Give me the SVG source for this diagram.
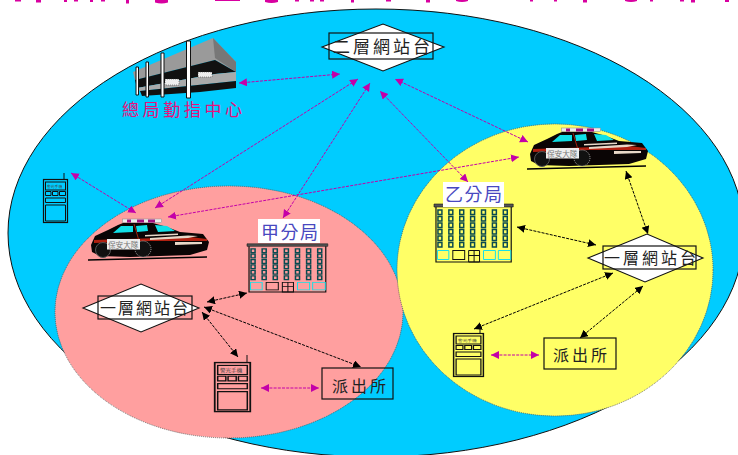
<svg xmlns="http://www.w3.org/2000/svg" width="738" height="455" viewBox="0 0 738 455">
<style>
text{font-family:"Noto Sans CJK TC","Noto Sans CJK SC",sans-serif}
.lbl{fill:#222;font-weight:400}
.box{fill:none;stroke:#111;stroke-width:1.2}
.dia{fill:#fff;stroke:#111;stroke-width:1.1}
.blue{fill:#4848c0;font-size:18px;letter-spacing:1.5px}
.m{stroke:#c400a8;fill:none;stroke-width:1;stroke-dasharray:3 1.2;marker-start:url(#mh);marker-end:url(#mh)}
.k{stroke:#000;fill:none;stroke-width:1;stroke-dasharray:3 1.2;marker-start:url(#kh);marker-end:url(#kh)}
</style>
<defs>
<marker id="mh" markerUnits="userSpaceOnUse" markerWidth="9" markerHeight="9" refX="8" refY="4" orient="auto-start-reverse"><path d="M0 0L8 4L0 8z" fill="#c400a8"/></marker>
<marker id="kh" markerUnits="userSpaceOnUse" markerWidth="9" markerHeight="9" refX="8" refY="4" orient="auto-start-reverse"><path d="M0 0L8 4L0 8z" fill="#000"/></marker>
<g id="car">
<path d="M1 27L5 18L18 12L28 7L33 5L63 5L77 9L90 14L113 16L119 24L117 32L100 37L40 39L10 38L2 34z" fill="#0a0505"/>
<rect x="32.500" y="1" width="39" height="3.600" fill="#eee" stroke="#888" stroke-width=".5"/>
<path d="M37 1.500h4v3h-4zM47 1.500h7v3h-7zM58 1.500h7v3h-7z" fill="#a01080"/>
<path d="M23 15L31 8L43 8L43 14zM46 8L57 7L58 13L47 14zM65 7L77 8L85 13L68 14z" fill="#10e0e8"/>
<path d="M4 22L100 19L117 21L117 23L60 23L4 25z" fill="#b02010"/>
<path d="M60 20L98 17.500L108 18L98 20L60 22zM85 24L112 24L112 26L85 27zM55 17L88 15.500L88 17L55 18.500z" fill="#e8d8c8"/>
<path d="M44 6L50 26" stroke="#a02010" stroke-width="1"/>
<circle cx="13" cy="32" r="7.500" fill="#111" stroke="#555" stroke-width="1"/>
<circle cx="53" cy="31" r="8" fill="#111" stroke="#aaa" stroke-width="1" stroke-dasharray="1 1"/>
<path d="M-2 42L117 39" stroke="#000" stroke-width="1.300"/>
<rect x="17" y="21" width="33" height="10.500" fill="#eee"/>
<text x="18" y="29.500" font-size="7.600" fill="#777">保安大隊</text>
</g>
<g id="radio">
<rect x=".5" y=".5" width="24" height="43" fill="none" stroke="#111" stroke-width="1.200"/>
<rect x="2.500" y="3" width="20" height="8" fill="none" stroke="#111"/>
<text x="4" y="9" font-size="3.800" fill="#444">警光手機</text>
<path d="M2.500 12.500h5.500v4h-5.500zM9.500 12.500h5.500v4h-5.500zM16.500 12.500h6v4h-6zM2.500 19h20v4.500h-20zM2.500 26h20v16h-20z" fill="none" stroke="#111"/>
</g>
<g id="bldg">
<path d="M0 1H80V4H0z" fill="#555" stroke="#111" stroke-width=".6"/>
<path d="M2 4V59H78V4" fill="none" stroke="#111" stroke-width="1.200"/>
<g fill="none" stroke="#0a4a50" stroke-width="1.500">
<path d="M4 7h4v4.500h-4zM4 13.500h4v4.500h-4zM4 20h4v4.500h-4zM4 26.500h4v4.500h-4zM4 33h4v4.500h-4zM4 39.500h4v4.500h-4z"/>
<path d="M15 7h4v4.500h-4zM15 13.500h4v4.500h-4zM15 20h4v4.500h-4zM15 26.500h4v4.500h-4zM15 33h4v4.500h-4zM15 39.500h4v4.500h-4z"/>
<path d="M26 7h4v4.500h-4zM26 13.500h4v4.500h-4zM26 20h4v4.500h-4zM26 26.500h4v4.500h-4zM26 33h4v4.500h-4zM26 39.500h4v4.500h-4z"/>
<path d="M37 7h4v4.500h-4zM37 13.500h4v4.500h-4zM37 20h4v4.500h-4zM37 26.500h4v4.500h-4zM37 33h4v4.500h-4zM37 39.500h4v4.500h-4z"/>
<path d="M48 7h4v4.500h-4zM48 13.500h4v4.500h-4zM48 20h4v4.500h-4zM48 26.500h4v4.500h-4zM48 33h4v4.500h-4zM48 39.500h4v4.500h-4z"/>
<path d="M59 7h4v4.500h-4zM59 13.500h4v4.500h-4zM59 20h4v4.500h-4zM59 26.500h4v4.500h-4zM59 33h4v4.500h-4zM59 39.500h4v4.500h-4z"/>
<path d="M70 7h4v4.500h-4zM70 13.500h4v4.500h-4zM70 20h4v4.500h-4zM70 26.500h4v4.500h-4zM70 33h4v4.500h-4zM70 39.500h4v4.500h-4z"/>
</g>
<path d="M3.500 47.500h11.500v9h-11.500zM50 47.500h12v9h-12zM65 47.500h12.500v9h-12.500z" fill="none" stroke="#18e0e8" stroke-width="1"/>
<rect x="19" y="47.500" width="12" height="9" fill="none" stroke="#111"/>
<path d="M35 47.500h11v11.500h-11zM40.500 47.500v11.500M35 52.500h11" fill="none" stroke="#111"/>
</g>
</defs>

<g id="title-fragments" fill="#d800a0">
<path d="M15 0h6v1.500h-6zM36 0h5v2.500h-5zM64 0h3v2h-3zM74 0h4v1.500h-4zM90 0h3v2h-3zM101 0h4v1.500h-4zM126 0h3v3.500h-3zM155 0h13v2.500q-6.500 2 -13 0zM215 0h25v1h-25zM265 0h13v2q-6.500 2 -13 0zM295 0h4v1.500h-4zM310 0h4v1.500h-4zM320 0h4v1.500h-4zM351 0h3v2.500h-3zM386 0h5v1.500h-5zM426 0h4v2.500h-4zM456 0h12v1q-6 2 -12 0zM530 0h3v1.500h-3zM554 0h3v1.500h-3zM583 0h4v2.500h-4zM625 0h12v1q-6 2 -12 0zM650 0h3v1.500h-3zM680 0h4v1.500h-4zM691 0h4v2.500h-4zM725 0h4v2h-4z"/>
</g>

<ellipse id="blue-area" cx="376" cy="233" rx="368" ry="224" fill="#00ccff" stroke="#111" stroke-width="1"/>
<ellipse id="pink-area" cx="229" cy="312" rx="174" ry="126" fill="#ff9f9f" stroke="#555" stroke-width=".8" stroke-dasharray="1 1"/>
<ellipse id="yellow-area" cx="555" cy="270" rx="158" ry="146" fill="#ffff66" stroke="#555" stroke-width=".8" stroke-dasharray="1 1"/>

<g id="connectors">
<line class="m" x1="239" y1="83" x2="340" y2="74"/>
<line class="m" x1="155" y1="208" x2="358" y2="79"/>
<line class="m" x1="283" y1="218" x2="370" y2="83"/>
<line class="m" x1="468" y1="182" x2="380" y2="91"/>
<line class="m" x1="528" y1="142" x2="395" y2="79"/>
<line class="m" x1="168" y1="217" x2="519" y2="157"/>
<line class="m" x1="71" y1="173" x2="136" y2="213"/>
<line class="m" x1="261" y1="388" x2="319" y2="388"/>
<line class="m" x1="491" y1="355" x2="539" y2="355"/>
<line class="k" x1="207" y1="302" x2="247" y2="293"/>
<line class="k" x1="202" y1="312" x2="238" y2="357"/>
<line class="k" x1="204" y1="307" x2="361" y2="367"/>
<line class="k" x1="626" y1="171" x2="648" y2="234"/>
<line class="k" x1="517" y1="227" x2="596" y2="245"/>
<line class="k" x1="474" y1="329" x2="613" y2="273"/>
<line class="k" x1="580" y1="338" x2="643" y2="286"/>
</g>

<g id="hq">
<path d="M133 72L213 38L236 62V72L215 60L135 80z" fill="#9a9a9a"/>
<path d="M213 38L236 62L236 72L215 58z" fill="#777"/>
<path d="M135 80L215 60L236 72L215 74L137 88z" fill="#111"/>
<path d="M137 88L215 74L236 72V81L140 91z" fill="#aaa"/>
<path d="M140 91L236 81V88L200 92L142 96z" fill="#111"/>
<path d="M165 79h14v6h-14zM198 72h14v5h-14z" fill="#eee" stroke="#333" stroke-width=".5" stroke-dasharray="1 1"/>
<g fill="#fff" stroke="#111" stroke-width="1">
<path d="M136 67h2.500v28h-2.500zM146 62h2.500v35h-2.500zM161 53h3v44h-3zM186.500 41h4v57h-4z"/>
</g>
<text x="122" y="116" font-size="17px" letter-spacing="3.600" fill="#e8107c">總局勤指中心</text>
</g>

<g id="net2"><path class="dia" d="M322 47L383 24L444 47L383 71z"/><rect class="box" x="329" y="33" width="104" height="26"/><text class="lbl" x="333" y="52.500" font-size="17px" letter-spacing="3">二層網站台</text></g>
<g id="net1-a"><path class="dia" d="M83 308L141 284L199 308L141 332z"/><rect class="box" x="98" y="296" width="94" height="23"/><text class="lbl" x="100" y="314" font-size="16px" letter-spacing="2">一層網站台</text></g>
<g id="net1-b"><path class="dia" d="M588 258L647 234L703 258L645 282z"/><rect class="box" x="603" y="246" width="93" height="23"/><text class="lbl" x="604" y="264" font-size="16px" letter-spacing="3">一層網站台</text></g>

<use id="car-a" href="#car" x="90" y="218"/>
<use id="car-b" href="#car" x="529" y="127"/>

<g id="radio-a"><path d="M64 173v6" stroke="#111"/><use href="#radio" transform="translate(43 179)"/></g>
<g id="radio-b"><path d="M247 355v7" stroke="#111"/><use href="#radio" transform="translate(214 362) scale(1.480 1.140)"/></g>
<g id="radio-c"><path d="M480 327v6" stroke="#111"/><use href="#radio" transform="translate(453 333) scale(1.240 1)"/></g>

<g id="branch-a"><use href="#bldg" transform="translate(247 243) scale(1.010 .83)"/><rect x="258" y="219" width="62" height="24" fill="#fff"/><text class="blue" x="261" y="239">甲分局</text></g>
<g id="branch-b"><use href="#bldg" transform="translate(434 203) scale(.99 1)"/><rect x="443" y="182" width="61" height="25" fill="#fff"/><text class="blue" x="445" y="201">乙分局</text></g>

<g id="post-a"><rect class="box" x="322" y="368" width="71" height="31"/><text class="lbl" x="332" y="392" font-size="16px" letter-spacing="3">派出所</text></g>
<g id="post-b"><rect class="box" x="544" y="338" width="72" height="31"/><text class="lbl" x="553" y="361" font-size="16px" letter-spacing="3">派出所</text></g>
</svg>
